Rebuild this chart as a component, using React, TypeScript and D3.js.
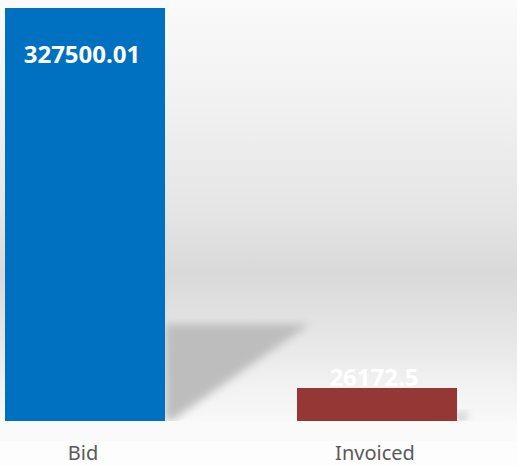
import React from "react";
import * as d3 from "d3";

const categories = ["Bid", "Invoiced"];
const values = [327500.01, 26172.5];
const valueLabels = ["327500.01", "26172.5"];
const colors = ["#0070c0", "#953735"];

const W = 517;
const H = 466;

export default function App() {
  const x = d3.scaleBand<string>().domain(categories).range([5, 457]).paddingInner(0.452).paddingOuter(0);
  const y = d3.scaleLinear().domain([0, d3.max(values) as number]).range([421, 8]);
  const base = y(0);

  return (
    <svg width={W} height={H} style={{ position: "absolute", left: 0, top: 0 }}>
      <defs>
        <linearGradient id="bgv" x1="0" y1="0" x2="0" y2={421} gradientUnits="userSpaceOnUse">
          <stop offset="0" stopColor="#fafafa" />
          <stop offset="0.25" stopColor="#f1f1f1" />
          <stop offset="0.5" stopColor="#e5e5e5" />
          <stop offset="0.65" stopColor="#d9d9d9" />
          <stop offset="0.78" stopColor="#e4e4e4" />
          <stop offset="0.92" stopColor="#f2f2f2" />
          <stop offset="1" stopColor="#f8f8f8" />
        </linearGradient>
        <filter id="blur" x="-50%" y="-50%" width="200%" height="200%">
          <feGaussianBlur stdDeviation="4.5" />
        </filter>
        <clipPath id="wall">
          <rect x={0} y={0} width={W} height={base} />
        </clipPath>
      </defs>
      <rect x={0} y={0} width={W} height={base} fill="url(#bgv)" />
      <rect x={0} y={base} width={W} height={20} fill="#fafafa" />
      <rect x={0} y={base + 20} width={W} height={H - base - 20} fill="#fdfdfd" />
      <g clipPath="url(#wall)">
        {categories.map((c, i) => {
          const x1 = (x(c) as number) + x.bandwidth();
          const h = base - y(values[i]);
          const top = base - h * 0.235;
          const pts = [
            [x1, top],
            [x1 + h * 0.35, top],
            [x1 + 6, base],
            [x1, base],
          ];
          return (
            <polygon
              key={"s" + c}
              points={pts.map((p) => p.join(",")).join(" ")}
              fill="#bdbdbd"
              filter="url(#blur)"
            />
          );
        })}
      </g>
      {categories.map((c, i) => (
        <rect
          key={c}
          x={x(c)}
          y={y(values[i])}
          width={x.bandwidth()}
          height={base - y(values[i])}
          fill={colors[i]}
        />
      ))}
      {categories.map((c, i) => {
        const cx = (x(c) as number) + x.bandwidth() / 2;
        const inside = i === 0;
        const ty = inside ? y(values[i]) + 55 : y(values[i]) - 2;
        return (
          <text
            key={"v" + c}
            x={cx - 3}
            y={ty}
            textAnchor="middle"
            fill="#ffffff"
            fontFamily="'Open Sans', 'Noto Sans', sans-serif"
            fontWeight={700}
            fontSize={24}
          >
            {valueLabels[i]}
          </text>
        );
      })}
      {categories.map((c) => (
        <text
          key={"l" + c}
          x={(x(c) as number) + x.bandwidth() / 2 - 2}
          y={460}
          textAnchor="middle"
          fill="#595959"
          fontFamily="'Noto Sans', sans-serif"
          fontSize={20}
        >
          {c}
        </text>
      ))}
    </svg>
  );
}
